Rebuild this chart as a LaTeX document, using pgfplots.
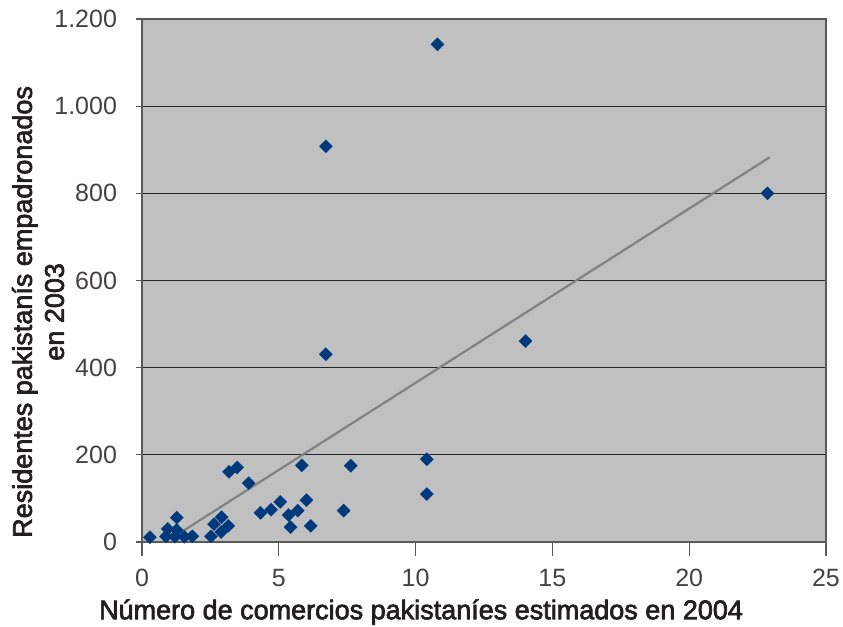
\documentclass[border=0pt]{standalone}
\usepackage{fontspec}
\setmainfont{Liberation Sans}
\newfontfamily\medfont[FakeBold=2.5]{Liberation Sans}
\usepackage{pgfplots}
\pgfplotsset{compat=1.18}
\definecolor{bg}{HTML}{C0C0C1}
\definecolor{mk}{HTML}{003A7D}
\definecolor{txt}{HTML}{231F20}
\definecolor{trend}{HTML}{808282}
\begin{document}
\begin{tikzpicture}
\path[use as bounding box] (-71pt,-42.5pt) rectangle (350.5pt,271pt);
\begin{axis}[
  scale only axis, width=342pt, height=261.5pt,
  xmin=0, xmax=25, ymin=0, ymax=1200,
  xtick={0,5,10,15,20,25}, ytick={0,200,400,600,800,1000,1200},
  axis background/.style={fill=bg},
  axis line style={draw=gray!70!black, line width=0.6pt},
  ymajorgrids, grid style={black!85, line width=0.6pt},
  tick align=outside, tick pos=left,
  major tick length=7pt,
  xtick style={draw=gray!70!black, line width=0.6pt},
  ytick style={draw=gray!70!black, line width=0.6pt, /pgfplots/major tick length=3pt},
  tick label style={font=\fontsize{12.5}{15}\selectfont, text=txt!85},
  xticklabel style={yshift=-3pt},
  yticklabel style={xshift=-2pt},
  /pgf/number format/.cd, 1000 sep={.}, assume math mode=true, /pgfplots/.cd,
  xlabel={Número de comercios pakistaníes estimados en 2004},
  ylabel={Residentes pakistanís empadronados\\en 2003},
  label style={font=\medfont\fontsize{13.5}{16}\selectfont, text=txt},
  xlabel style={at={(axis description cs:0.408,-0.134)}, anchor=center},
  ylabel style={at={(axis description cs:-0.152,0.44)}, anchor=center, align=center},
]
\addplot[trend, line width=1.1pt] coordinates {(1.14,11) (22.95,883)};
\addplot[only marks, mark=square*, mark size=2.3pt, mark options={rotate=45, fill=mk, draw=mk, line width=0.2pt}] coordinates {
(10.8,1142) (22.86,800) (6.72,908) (6.72,431) (14.02,461) (10.41,190) (10.41,110)
(0.29,11) (0.94,30) (0.88,13) (1.27,56) (1.27,27.5) (1.2,12) (1.55,12) (1.84,13)
(2.52,13) (2.63,41) (2.91,57) (2.89,23) (3.15,37) (3.18,161) (3.48,171) (3.9,135)
(4.33,67) (4.72,74) (5.05,92) (5.36,62) (5.43,34) (5.69,72) (6.01,96) (6.17,37)
(5.84,176) (7.37,72) (7.63,175)
};
\end{axis}
\end{tikzpicture}
\end{document}
